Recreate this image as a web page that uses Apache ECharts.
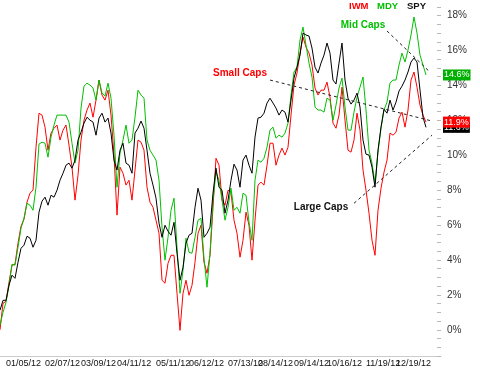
<!DOCTYPE html>
<html>
<head>
<meta charset="utf-8">
<script src="https://cdn.jsdelivr.net/npm/echarts/dist/echarts.min.js"></script>
<style>
  html, body { margin: 0; padding: 0; background: #fff; }
  #chart { width: 480px; height: 370px; }
</style>
</head>
<body>
<div id="chart"></div>
<script>
// ---- data (percent change, sampled left to right) ----
const seriesNames = ['IWM', 'MDY', 'SPY'];

const iwm = [0.0, 1.52, 1.63, 2.72, 3.70, 3.76, 4.96, 5.93, 6.34, 7.31,
  7.83, 8.00, 10.46, 12.41, 12.30, 11.61, 10.29, 11.27, 11.55, 11.73,
  10.87, 11.44, 11.73, 10.58, 9.32, 7.43, 8.86, 10.87, 12.01, 12.59,
  12.99, 12.18, 13.16, 14.31, 13.45, 13.16, 13.73, 12.30, 10.01, 6.57,
  9.32, 8.97, 8.29, 8.57, 7.43, 9.15, 10.87, 10.75, 10.29, 8.17,
  7.31, 7.02, 6.28, 5.53, 2.84, 2.67, 3.81, 4.27, 4.27, 2.09,
  -0.03, 2.09, 2.84, 1.98, 2.55, 3.87, 5.53, 5.99, 3.87, 3.24,
  4.27, 7.02, 9.83, 9.43, 7.43, 7.14, 8.00, 7.88, 6.28, 5.53,
  4.16, 5.13, 6.74, 5.99, 3.99, 6.28, 8.29, 8.46, 8.29, 9.43,
  10.69, 10.69, 9.43, 10.01, 10.41, 10.01, 10.46, 12.30, 14.02, 14.71,
  15.85, 16.77, 16.20, 15.85, 15.17, 13.85, 13.45, 13.73, 13.73, 14.19,
  13.33, 11.84, 11.55, 12.30, 13.90, 12.01, 10.29, 10.18, 10.87, 12.41,
  11.44, 9.15, 8.00, 6.68, 5.13, 4.27, 6.85, 8.11, 9.03, 9.72,
  11.27, 11.15, 11.32, 12.13, 12.47, 11.61, 12.59, 14.31, 14.77, 13.90,
  12.87, 12.30, 11.90];

const mdy = [0.26, 1.00, 1.58, 2.55, 3.76, 3.70, 4.73, 5.82, 6.39, 7.25,
  7.14, 6.85, 8.17, 10.64, 10.75, 10.69, 9.89, 11.04, 11.73, 12.30,
  12.30, 12.30, 12.30, 11.90, 10.69, 9.55, 10.29, 12.70, 13.96, 14.13,
  14.02, 13.85, 13.16, 14.31, 13.56, 13.39, 14.13, 13.27, 11.15, 8.17,
  10.12, 10.87, 11.73, 10.69, 10.87, 12.18, 13.73, 13.45, 13.27, 10.87,
  10.29, 10.01, 9.72, 8.57, 5.88, 3.99, 5.30, 6.85, 7.54, 4.73,
  2.09, 3.41, 5.25, 4.44, 4.39, 5.30, 6.28, 6.39, 4.10, 2.44,
  4.39, 7.43, 9.03, 8.57, 7.43, 6.28, 7.02, 8.11, 6.85, 7.02,
  6.68, 7.83, 7.71, 6.16, 5.13, 8.57, 9.72, 9.60, 9.83, 10.46,
  11.44, 11.61, 10.98, 11.15, 11.04, 11.27, 11.84, 13.45, 14.77, 15.05,
  16.60, 17.34, 16.31, 15.28, 14.48, 12.76, 12.59, 12.59, 12.47, 13.27,
  13.16, 12.01, 12.87, 13.85, 14.42, 12.76, 11.44, 11.44, 12.47, 13.33,
  13.90, 14.48, 12.59, 10.29, 9.55, 8.40, 10.18, 11.55, 12.59, 13.04,
  14.13, 14.31, 14.31, 15.17, 15.85, 15.34, 16.03, 16.89, 17.92, 17.00,
  15.74, 15.17, 14.60];

const spy = [1.12, 1.69, 1.69, 2.55, 3.13, 2.95, 3.87, 4.67, 4.85, 5.36,
  5.25, 4.73, 5.13, 6.74, 7.37, 7.60, 7.14, 7.71, 7.60, 8.00,
  8.57, 8.97, 9.43, 9.55, 9.26, 9.72, 10.87, 11.32, 11.84, 12.18,
  12.01, 11.90, 11.15, 12.13, 12.41, 11.90, 12.13, 11.27, 9.72, 9.15,
  10.29, 10.69, 9.55, 9.43, 8.97, 11.27, 11.55, 11.96, 11.55, 10.29,
  8.97, 8.29, 7.54, 6.11, 5.30, 5.99, 5.65, 5.42, 6.16, 4.39,
  2.84, 3.58, 4.96, 5.42, 5.53, 7.02, 8.11, 7.43, 5.30, 5.53,
  5.88, 7.83, 9.26, 8.17, 8.00, 6.68, 7.43, 8.57, 9.49, 9.15,
  8.17, 9.72, 10.01, 9.43, 8.97, 11.04, 12.13, 12.18, 12.41, 12.99,
  13.27, 12.99, 12.70, 12.30, 12.59, 12.47, 11.90, 13.16, 14.42, 15.05,
  15.74, 17.00, 16.89, 16.83, 16.14, 15.05, 14.71, 15.28, 15.74, 16.43,
  15.85, 14.31, 14.08, 15.28, 16.43, 14.31, 13.27, 12.93, 13.16, 13.56,
  12.76, 10.87, 10.06, 10.01, 9.32, 8.17, 10.29, 11.61, 12.64, 12.41,
  13.16, 12.59, 13.04, 13.68, 13.96, 14.31, 14.77, 15.34, 15.57, 15.34,
  13.73, 12.18, 11.6];

// x axis: slot count (incl. empty space right of the last close) and date labels
const slotCount = 148;
const tickLabels = ['01/05/12', '02/07/12', '03/09/12', '04/11/12', '05/11/12', '06/12/12',
  '07/13/12', '08/14/12', '09/14/12', '10/16/12', '11/19/12', '12/19/12'];
const tickSlots = [2, 15, 27, 39, 52, 63, 76, 86, 98, 109, 122, 132];

// annotations: [text, slot, value]
const notes = [['Mid Caps', 121, 17.43], ['Small Caps', 80, 14.68], ['Large Caps', 107, 7.02]];
// trend lines: [[slot, value], [slot, value]]
const trendMid = [[129, 17.12], [143, 14.82]];
const trendSmall = [[90, 14.31], [144, 11.96]];
const trendLarge = [[118, 7.25], [144, 11.15]];

const colors = { IWM: '#ff0000', MDY: '#00c000', SPY: '#000000' };
const boxColors = { IWM: '#ff0000', MDY: '#00b000', SPY: '#000000' };
const FONT = 'Liberation Sans, Arial, Helvetica, sans-serif';

const categories = Array.from({ length: slotCount }, (_, i) => 's' + i);
const dataBy = { IWM: iwm, MDY: mdy, SPY: spy };

const lineSeries = seriesNames.map(n => ({
  name: n, type: 'line', data: dataBy[n], showSymbol: false, symbol: 'none',
  silent: true, animation: false,
  lineStyle: { color: colors[n], width: 1 }, itemStyle: { color: colors[n] }
}));

const trendSeries = {
  name: '_trend', type: 'line', data: [], silent: true, animation: false,
  markLine: {
    silent: true, symbol: ['none', 'none'], animation: false,
    label: { show: false },
    lineStyle: { color: '#222', width: 1, type: [3, 3] },
    data: [trendMid, trendSmall, trendLarge].map(t => [{ coord: t[0] }, { coord: t[1] }])
  },
  markPoint: {
    silent: true, animation: false, symbol: 'rect', symbolSize: 1,
    itemStyle: { color: 'rgba(0,0,0,0)' },
    data: notes.map((nt, k) => ({
      name: nt[0], coord: [nt[1], nt[2]],
      label: {
        show: true, position: 'inside', formatter: '{b}', fontFamily: FONT,
        fontSize: 10, fontWeight: 'bold',
        color: [colors.MDY, colors.IWM, '#111'][k]
      }
    }))
  }
};

const endOrder = ['SPY', 'MDY', 'IWM'];
const endSeries = endOrder.map(n => {
  const arr = dataBy[n];
  const last = arr[arr.length - 1];
  return {
    name: '_end' + n, type: 'line', data: [], silent: true, animation: false, z: 5,
    markLine: {
      silent: true, symbol: ['none', 'none'], animation: false,
      lineStyle: { color: 'rgba(0,0,0,0)', width: 0 },
      data: [{ yAxis: last }],
      label: {
        show: true, position: 'end', distance: 2,
        formatter: last.toFixed(1) + '%',
        color: '#fff', backgroundColor: boxColors[n],
        fontFamily: FONT, fontSize: 9, padding: [1, 1, 0, 1], lineHeight: 10
      }
    }
  };
});

// header key: one title per series name
const headerLeft = [349, 377, 407];
const titles = seriesNames.map((n, k) => ({
  text: n, left: headerLeft[k], top: 1, padding: 0,
  textStyle: { color: n === 'SPY' ? '#111' : colors[n], fontFamily: FONT, fontSize: 9.5, fontWeight: 'bold' }
}));

// the date labels are split over two stacked axes so that touching labels are all kept
const lastSlot = tickSlots[tickSlots.length - 1];
function dateAxis(showSlot, withLine) {
  return {
    type: 'category', data: categories, boundaryGap: false, position: 'bottom', offset: 0,
    axisLine: { show: withLine, onZero: false, lineStyle: { color: '#cccccc', width: 1 } },
    axisTick: { show: false },
    splitLine: { show: false },
    axisLabel: {
      interval: (i) => showSlot(i), hideOverlap: false,
      formatter: (v, i) => { const k = tickSlots.indexOf(i); return k >= 0 ? tickLabels[k] : ''; },
      align: 'left', margin: 3, fontSize: 9, color: '#111', fontFamily: FONT
    }
  };
}

const chart = echarts.init(document.getElementById('chart'), null, { renderer: 'canvas' });
chart.setOption({
  animation: false,
  backgroundColor: '#ffffff',
  textStyle: { fontFamily: FONT },
  title: titles,
  grid: { left: 0, right: 39, top: 6.9, bottom: 14, containLabel: false },
  xAxis: [
    dateAxis((i) => tickSlots.includes(i) && i !== lastSlot, true),
    dateAxis((i) => i === lastSlot, false)
  ],
  yAxis: {
    type: 'value', position: 'right', min: -1.5, max: 18.5, interval: 0.5,
    axisLine: { show: false },
    axisTick: { show: true, inside: true, length: 4, lineStyle: { color: '#b8b8b8' } },
    splitLine: { show: false },
    axisLabel: {
      margin: 6, fontSize: 10, color: '#333', fontFamily: FONT,
      formatter: (v) => {
        const r = Math.round(v * 10) / 10;
        return (r >= 0 && Math.abs(r % 2) < 1e-6) ? (r + '%') : '';
      }
    }
  },
  series: lineSeries.concat([trendSeries]).concat(endSeries)
});
</script>
</body>
</html>
